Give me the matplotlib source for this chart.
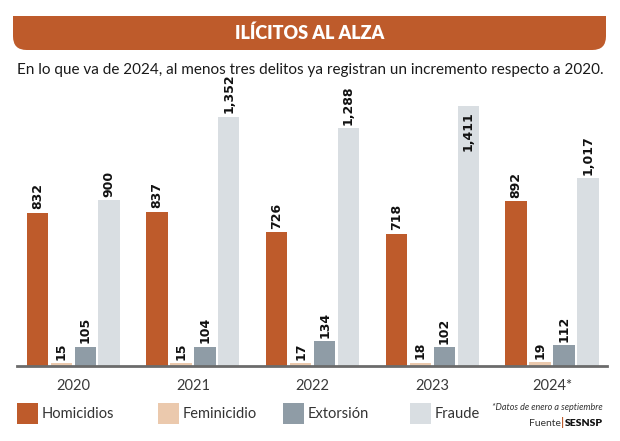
import matplotlib.pyplot as plt
import numpy as np
from matplotlib.patches import FancyBboxPatch, Rectangle

# datos
years = ['2020', '2021', '2022', '2023', '2024*']
series = ['Homicidios', 'Feminicidio', 'Extorsión', 'Fraude']
homicidios = [832, 837, 726, 718, 892]
feminicidio = [15, 15, 17, 18, 19]
extorsion = [105, 104, 134, 102, 112]
fraude = [900, 1352, 1288, 1411, 1017]
colors = ['#BE5B2B', '#EBC9AD', '#8F9CA6', '#D9DEE2']

plt.rcParams['font.family'] = ['Lato', 'DejaVu Sans']

fig = plt.figure(figsize=(6.2, 4.41), dpi=100)
W, H = 620.0, 441.0

# banner del titulo (esquinas redondeadas abajo)
banner = FancyBboxPatch((13 / W, 1 - 50 / H), 593 / W, 34 / H,
                        boxstyle='round,pad=0,rounding_size=0.022',
                        transform=fig.transFigure, facecolor=colors[0],
                        edgecolor='none', mutation_aspect=W / H)
fig.patches.append(banner)
fig.patches.append(Rectangle((13 / W, 1 - 33 / H), 593 / W, 17 / H,
                             transform=fig.transFigure, facecolor=colors[0],
                             edgecolor='none'))
fig.text(0.5, 1 - 33 / H, 'ILÍCITOS AL ALZA', ha='center', va='center',
         color='white', fontsize=13, fontweight='heavy')
fig.text(0.5, 1 - 70 / H,
         'En lo que va de 2024, al menos tres delitos ya registran un incremento respecto a 2020.',
         ha='center', va='center', color='#1a1a1a', fontsize=11)

# ejes
ax = fig.add_axes([17 / W, (H - 366) / H, 590 / W, 280 / H])
x = np.arange(len(years))
offsets = [-0.3, -0.1, 0.1, 0.3]
data = [homicidios, feminicidio, extorsion, fraude]
for vals, off, c, name in zip(data, offsets, colors, series):
    bars = ax.bar(x + off, vals, width=0.178, color=c, label=name, zorder=2)
    for b, v in zip(bars, vals):
        xc = b.get_x() + b.get_width() / 2
        if v > 1400:
            # no cabe arriba: va dentro de la barra
            ax.text(xc, v - 30, f'{v:,}', rotation=90, ha='center', va='top',
                    fontsize=9, fontweight='bold', family=['DejaVu Sans'],
                    color='#111111', zorder=4)
        else:
            ax.text(xc, v + 18, f'{v:,}', rotation=90, ha='center', va='bottom',
                    fontsize=9, fontweight='bold', family=['DejaVu Sans'],
                    color='#111111', zorder=4)

ax.set_xlim(-0.47, 4.46)
ax.set_ylim(0, 1518)
ax.set_xticks(x)
ax.set_xticklabels(years, fontsize=10.5, color='#3a3a3a')
ax.tick_params(axis='x', length=0, pad=9)
ax.set_yticks([])
for s in ['left', 'right', 'top']:
    ax.spines[s].set_visible(False)
ax.spines['bottom'].set_color('#6b6b6b')
ax.spines['bottom'].set_linewidth(2)
ax.spines['bottom'].set_zorder(3)

# leyenda manual
leg_x = [17, 158, 283, 410]
for lx, c, name in zip(leg_x, colors, series):
    fig.patches.append(Rectangle((lx / W, 1 - 424 / H), 21 / W, 21 / H,
                                 transform=fig.transFigure, facecolor=c,
                                 edgecolor='none'))
    fig.text((lx + 25) / W, 1 - 414 / H, name, ha='left', va='center',
             fontsize=10.5, color='#333333')

# nota y fuente
fig.text(603 / W, 1 - 408 / H, '*Datos de enero a septiembre', ha='right',
         va='center', fontsize=6.5, style='italic', color='#333333')
t = fig.text(603 / W, 1 - 423 / H, 'SESNSP', ha='right', va='center',
             fontsize=7.5, fontweight='heavy', color='#111111')
pipe = ax.annotate('|', xy=(0, 0.5), xycoords=t, xytext=(-0.5, 0),
                   textcoords='offset points', ha='right', va='center',
                   fontsize=8.5, fontweight='bold', color=colors[0],
                   annotation_clip=False)
ax.annotate('Fuente', xy=(0, 0.5), xycoords=pipe, xytext=(-0.5, 0),
            textcoords='offset points', ha='right', va='center',
            fontsize=7.5, color='#333333', annotation_clip=False)

fig.savefig('out.png', dpi=100)
